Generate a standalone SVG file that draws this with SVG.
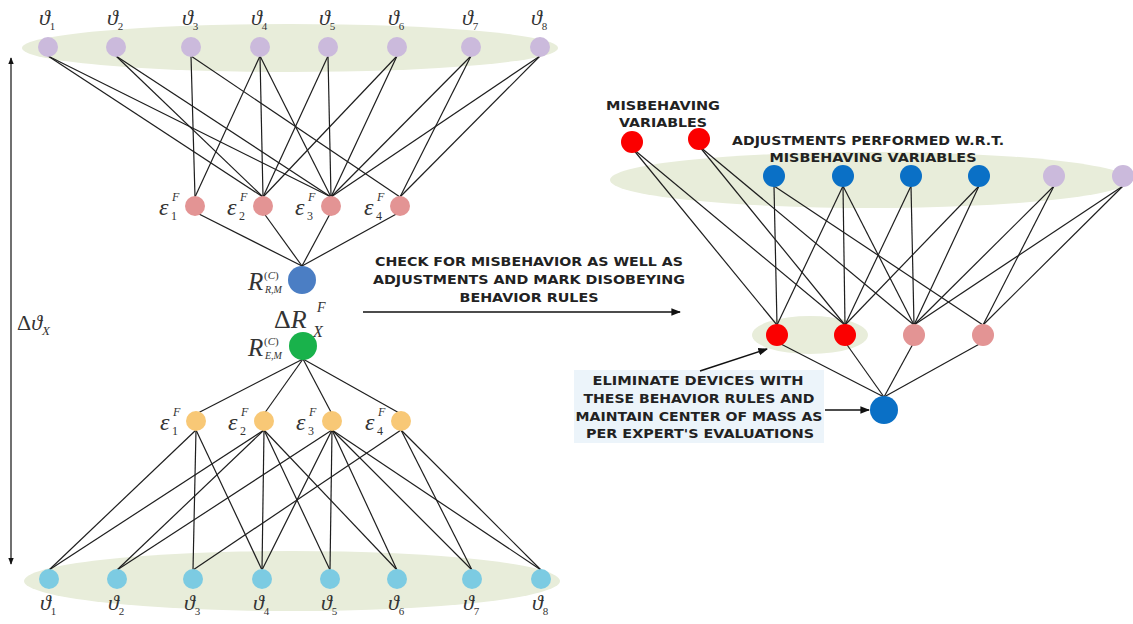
<svg xmlns="http://www.w3.org/2000/svg" width="1133" height="624" viewBox="0 0 1133 624">
<style>
.bg{fill:#ffffff}
.ell{fill:#e8edda}
.e{stroke:#1e1e1e;stroke-width:1.2;fill:none}
.arr{stroke:#111;stroke-width:1.6;fill:none}
.lav{fill:#cbbadc}
.pnk{fill:#e39494}
.yel{fill:#f8c876}
.lbl{fill:#7ccbe2}
.red{fill:#fb0000}
.blu{fill:#0a70c6}
.rblu{fill:#4b7ec4}
.grn{fill:#19b24b}
.m{font-family:"Liberation Serif",serif;font-style:italic;fill:#333}
.u{font-family:"Liberation Serif",serif;fill:#333}
.b{font-family:"DejaVu Sans",sans-serif;font-weight:bold;fill:#222;font-size:13px}
</style>
<defs>
<marker id="ah" viewBox="0 0 10 10" refX="9" refY="5" markerWidth="6" markerHeight="6" orient="auto-start-reverse">
<path d="M0,1 L10,5 L0,9 z" fill="#111"/>
</marker>
</defs>
<rect class="bg" x="0" y="0" width="1133" height="624"/>

<!-- background ellipses -->
<ellipse class="ell" cx="290" cy="48" rx="268" ry="24"/>
<ellipse class="ell" cx="292" cy="581" rx="268" ry="30"/>
<ellipse class="ell" cx="870" cy="180" rx="260" ry="28"/>
<ellipse class="ell" cx="810" cy="335" rx="58" ry="19"/>
<rect x="574" y="370" width="250" height="73" fill="#ecf4fa"/>

<g id="connectors">
<!-- top variables to epsilon -->
<line class="e" x1="48" y1="56" x2="263" y2="197"/>
<line class="e" x1="48" y1="56" x2="331" y2="197"/>
<line class="e" x1="116" y1="56" x2="263" y2="197"/>
<line class="e" x1="116" y1="56" x2="331" y2="197"/>
<line class="e" x1="191" y1="56" x2="195" y2="197"/>
<line class="e" x1="191" y1="56" x2="400" y2="197"/>
<line class="e" x1="260" y1="56" x2="195" y2="197"/>
<line class="e" x1="260" y1="56" x2="263" y2="197"/>
<line class="e" x1="260" y1="56" x2="331" y2="197"/>
<line class="e" x1="328" y1="56" x2="263" y2="197"/>
<line class="e" x1="328" y1="56" x2="331" y2="197"/>
<line class="e" x1="397" y1="56" x2="263" y2="197"/>
<line class="e" x1="397" y1="56" x2="331" y2="197"/>
<line class="e" x1="471" y1="56" x2="331" y2="197"/>
<line class="e" x1="471" y1="56" x2="400" y2="197"/>
<line class="e" x1="540" y1="56" x2="331" y2="197"/>
<line class="e" x1="540" y1="56" x2="400" y2="197"/>
<!-- epsilon to R -->
<line class="e" x1="195" y1="212" x2="302" y2="266"/>
<line class="e" x1="263" y1="212" x2="302" y2="266"/>
<line class="e" x1="331" y1="212" x2="302" y2="266"/>
<line class="e" x1="400" y1="212" x2="302" y2="266"/>
<!-- green to yellow -->
<line class="e" x1="303" y1="359" x2="196" y2="414"/>
<line class="e" x1="303" y1="359" x2="264" y2="414"/>
<line class="e" x1="303" y1="359" x2="332" y2="414"/>
<line class="e" x1="303" y1="359" x2="401" y2="414"/>
<!-- yellow to bottom variables -->
<line class="e" x1="196" y1="430" x2="49" y2="570"/>
<line class="e" x1="196" y1="430" x2="193" y2="570"/>
<line class="e" x1="196" y1="430" x2="262" y2="570"/>
<line class="e" x1="264" y1="430" x2="49" y2="570"/>
<line class="e" x1="264" y1="430" x2="117" y2="570"/>
<line class="e" x1="264" y1="430" x2="262" y2="570"/>
<line class="e" x1="264" y1="430" x2="330" y2="570"/>
<line class="e" x1="264" y1="430" x2="397" y2="570"/>
<line class="e" x1="332" y1="430" x2="117" y2="570"/>
<line class="e" x1="332" y1="430" x2="262" y2="570"/>
<line class="e" x1="332" y1="430" x2="330" y2="570"/>
<line class="e" x1="332" y1="430" x2="397" y2="570"/>
<line class="e" x1="332" y1="430" x2="472" y2="570"/>
<line class="e" x1="332" y1="430" x2="541" y2="570"/>
<line class="e" x1="401" y1="430" x2="193" y2="570"/>
<line class="e" x1="401" y1="430" x2="472" y2="570"/>
<line class="e" x1="401" y1="430" x2="541" y2="570"/>
<!-- right graph -->
<line class="e" x1="632" y1="148" x2="777" y2="325"/>
<line class="e" x1="632" y1="148" x2="845" y2="325"/>
<line class="e" x1="699" y1="146" x2="845" y2="325"/>
<line class="e" x1="699" y1="146" x2="914" y2="325"/>
<line class="e" x1="774" y1="186" x2="777" y2="325"/>
<line class="e" x1="774" y1="186" x2="983" y2="325"/>
<line class="e" x1="843" y1="186" x2="777" y2="325"/>
<line class="e" x1="843" y1="186" x2="845" y2="325"/>
<line class="e" x1="843" y1="186" x2="914" y2="325"/>
<line class="e" x1="911" y1="186" x2="845" y2="325"/>
<line class="e" x1="911" y1="186" x2="914" y2="325"/>
<line class="e" x1="979" y1="186" x2="845" y2="325"/>
<line class="e" x1="979" y1="186" x2="914" y2="325"/>
<line class="e" x1="1054" y1="186" x2="914" y2="325"/>
<line class="e" x1="1054" y1="186" x2="983" y2="325"/>
<line class="e" x1="1123" y1="186" x2="914" y2="325"/>
<line class="e" x1="1123" y1="186" x2="983" y2="325"/>
<line class="e" x1="777" y1="342" x2="884" y2="397"/>
<line class="e" x1="845" y1="342" x2="884" y2="397"/>
<line class="e" x1="914" y1="342" x2="884" y2="397"/>
<line class="e" x1="983" y1="342" x2="884" y2="397"/>
<!-- arrows -->
<line class="arr" x1="11" y1="58" x2="11" y2="564" marker-start="url(#ah)" marker-end="url(#ah)" style="stroke-width:1.2"/>
<line class="arr" x1="363" y1="312" x2="680" y2="312" marker-end="url(#ah)"/>
<line class="arr" x1="700" y1="371" x2="767" y2="349" marker-end="url(#ah)"/>
<line class="arr" x1="825" y1="410" x2="869" y2="410" marker-end="url(#ah)"/>
</g>

<!-- top variables -->
<g id="top-vars">
<circle class="lav" cx="48" cy="47" r="10"/>
<circle class="lav" cx="116" cy="47" r="10"/>
<circle class="lav" cx="191" cy="47" r="10"/>
<circle class="lav" cx="260" cy="47" r="10"/>
<circle class="lav" cx="328" cy="47" r="10"/>
<circle class="lav" cx="397" cy="47" r="10"/>
<circle class="lav" cx="471" cy="47" r="10"/>
<circle class="lav" cx="540" cy="47" r="10"/>
<g class="m" font-size="22">
<text x="39" y="25">ϑ<tspan font-style="normal" font-size="11" dy="5">1</tspan></text>
<text x="107" y="25">ϑ<tspan font-style="normal" font-size="11" dy="5">2</tspan></text>
<text x="182" y="25">ϑ<tspan font-style="normal" font-size="11" dy="5">3</tspan></text>
<text x="251" y="25">ϑ<tspan font-style="normal" font-size="11" dy="5">4</tspan></text>
<text x="319" y="25">ϑ<tspan font-style="normal" font-size="11" dy="5">5</tspan></text>
<text x="388" y="25">ϑ<tspan font-style="normal" font-size="11" dy="5">6</tspan></text>
<text x="462" y="25">ϑ<tspan font-style="normal" font-size="11" dy="5">7</tspan></text>
<text x="531" y="25">ϑ<tspan font-style="normal" font-size="11" dy="5">8</tspan></text>
</g>
</g>

<g id="eps-top">
<circle class="pnk" cx="195" cy="206" r="10"/>
<circle class="pnk" cx="263" cy="206" r="10"/>
<circle class="pnk" cx="331" cy="206" r="10"/>
<circle class="pnk" cx="400" cy="206" r="10"/>
<g class="m">
<text x="159" y="215" font-size="24">ε</text><text x="172" y="201" font-size="12">F</text><text x="171" y="220" font-size="12" font-style="normal">1</text>
<text x="227" y="215" font-size="24">ε</text><text x="240" y="201" font-size="12">F</text><text x="239" y="220" font-size="12" font-style="normal">2</text>
<text x="295" y="215" font-size="24">ε</text><text x="308" y="201" font-size="12">F</text><text x="307" y="220" font-size="12" font-style="normal">3</text>
<text x="364" y="215" font-size="24">ε</text><text x="377" y="201" font-size="12">F</text><text x="376" y="220" font-size="12" font-style="normal">4</text>
</g>
</g>

<g id="R-RM">
<circle class="rblu" cx="302" cy="280" r="14"/>
<text class="m" x="248" y="290" font-size="25">R</text>
<text class="u" x="264" y="279" font-size="11">(<tspan font-style="italic">C</tspan>)</text>
<text class="m" x="265" y="293" font-size="10">R,M</text>
</g>

<g id="delta-R">
<text class="u" x="274" y="328" font-size="26">Δ<tspan font-style="italic">R</tspan></text>
<text class="m" x="317" y="312" font-size="14">F</text>
<text class="m" x="313" y="337" font-size="16">X</text>
</g>

<g id="R-EM">
<circle class="grn" cx="303" cy="346" r="14"/>
<text class="m" x="248" y="356" font-size="25">R</text>
<text class="u" x="264" y="345" font-size="11">(<tspan font-style="italic">C</tspan>)</text>
<text class="m" x="265" y="359" font-size="10">E,M</text>
</g>

<g id="eps-bottom">
<circle class="yel" cx="196" cy="421" r="10"/>
<circle class="yel" cx="264" cy="421" r="10"/>
<circle class="yel" cx="332" cy="421" r="10"/>
<circle class="yel" cx="401" cy="421" r="10"/>
<g class="m">
<text x="160" y="430" font-size="24">ε</text><text x="173" y="416" font-size="12">F</text><text x="172" y="435" font-size="12" font-style="normal">1</text>
<text x="228" y="430" font-size="24">ε</text><text x="241" y="416" font-size="12">F</text><text x="240" y="435" font-size="12" font-style="normal">2</text>
<text x="296" y="430" font-size="24">ε</text><text x="309" y="416" font-size="12">F</text><text x="308" y="435" font-size="12" font-style="normal">3</text>
<text x="365" y="430" font-size="24">ε</text><text x="378" y="416" font-size="12">F</text><text x="377" y="435" font-size="12" font-style="normal">4</text>
</g>
</g>

<g id="bottom-vars">
<circle class="lbl" cx="49" cy="579" r="10"/>
<circle class="lbl" cx="117" cy="579" r="10"/>
<circle class="lbl" cx="193" cy="579" r="10"/>
<circle class="lbl" cx="262" cy="579" r="10"/>
<circle class="lbl" cx="330" cy="579" r="10"/>
<circle class="lbl" cx="397" cy="579" r="10"/>
<circle class="lbl" cx="472" cy="579" r="10"/>
<circle class="lbl" cx="541" cy="579" r="10"/>
<g class="m" font-size="22">
<text x="40" y="610">ϑ<tspan font-style="normal" font-size="11" dy="5">1</tspan></text>
<text x="108" y="610">ϑ<tspan font-style="normal" font-size="11" dy="5">2</tspan></text>
<text x="184" y="610">ϑ<tspan font-style="normal" font-size="11" dy="5">3</tspan></text>
<text x="253" y="610">ϑ<tspan font-style="normal" font-size="11" dy="5">4</tspan></text>
<text x="321" y="610">ϑ<tspan font-style="normal" font-size="11" dy="5">5</tspan></text>
<text x="388" y="610">ϑ<tspan font-style="normal" font-size="11" dy="5">6</tspan></text>
<text x="463" y="610">ϑ<tspan font-style="normal" font-size="11" dy="5">7</tspan></text>
<text x="532" y="610">ϑ<tspan font-style="normal" font-size="11" dy="5">8</tspan></text>
</g>
</g>

<g id="delta-theta">
<text class="u" x="17" y="330" font-size="22">Δ<tspan font-style="italic">ϑ</tspan><tspan font-style="italic" font-size="13" dy="5">X</tspan></text>
</g>

<g id="check-label">
<text class="b" x="529" y="266" text-anchor="middle" textLength="308" lengthAdjust="spacingAndGlyphs">CHECK FOR MISBEHAVIOR AS WELL AS</text>
<text class="b" x="529" y="284" text-anchor="middle" textLength="312" lengthAdjust="spacingAndGlyphs">ADJUSTMENTS AND MARK DISOBEYING</text>
<text class="b" x="529" y="302" text-anchor="middle" textLength="139" lengthAdjust="spacingAndGlyphs">BEHAVIOR RULES</text>
</g>

<g id="misbehaving-vars">
<text class="b" x="663" y="110" text-anchor="middle" textLength="114" lengthAdjust="spacingAndGlyphs" font-size="12.5">MISBEHAVING</text>
<text class="b" x="663" y="127" text-anchor="middle" textLength="88" lengthAdjust="spacingAndGlyphs" font-size="12.5">VARIABLES</text>
<circle class="red" cx="632" cy="142" r="11"/>
<circle class="red" cx="699" cy="139" r="11"/>
</g>

<g id="adjusted-vars">
<text class="b" x="868" y="145" text-anchor="middle" textLength="272" lengthAdjust="spacingAndGlyphs" font-size="12.5">ADJUSTMENTS PERFORMED W.R.T.</text>
<text class="b" x="873" y="162" text-anchor="middle" textLength="207" lengthAdjust="spacingAndGlyphs" font-size="12.5">MISBEHAVING VARIABLES</text>
<circle class="blu" cx="774" cy="176" r="11"/>
<circle class="blu" cx="843" cy="176" r="11"/>
<circle class="blu" cx="911" cy="176" r="11"/>
<circle class="blu" cx="979" cy="176" r="11"/>
<circle class="lav" cx="1054" cy="176" r="11"/>
<circle class="lav" cx="1123" cy="176" r="11"/>
</g>

<g id="rules-right">
<circle class="red" cx="777" cy="335" r="11"/>
<circle class="red" cx="845" cy="335" r="11"/>
<circle class="pnk" cx="914" cy="335" r="11"/>
<circle class="pnk" cx="983" cy="335" r="11"/>
</g>

<g id="center-right">
<circle class="blu" cx="884" cy="410" r="14"/>
</g>

<g id="eliminate-note">
<text class="b" x="698" y="385" text-anchor="middle" textLength="211" lengthAdjust="spacingAndGlyphs" font-size="12.5">ELIMINATE DEVICES WITH</text>
<text class="b" x="699" y="403" text-anchor="middle" textLength="231" lengthAdjust="spacingAndGlyphs" font-size="12.5">THESE BEHAVIOR RULES AND</text>
<text class="b" x="699" y="421" text-anchor="middle" textLength="247" lengthAdjust="spacingAndGlyphs" font-size="12.5">MAINTAIN CENTER OF MASS AS</text>
<text class="b" x="700" y="438" text-anchor="middle" textLength="228" lengthAdjust="spacingAndGlyphs" font-size="12.5">PER EXPERT'S EVALUATIONS</text>
</g>
</svg>
